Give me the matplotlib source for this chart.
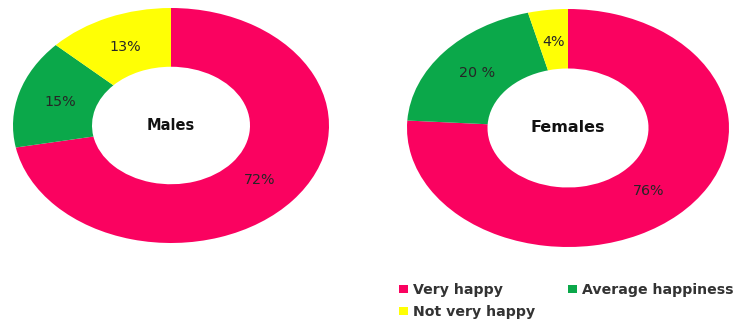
import matplotlib
matplotlib.use("Agg")
import matplotlib.pyplot as plt
import numpy as np
from matplotlib.patches import Patch

plt.rcParams['font.family'] = ['DejaVu Sans']

categories = ["Very happy", "Average happiness", "Not very happy"]
males = [72, 15, 13]
females = [76, 20, 4]
male_labels = ["72%", "15%", "13%"]
female_labels = ["76%", "20 %", "4%"]
colors = ["#FA0260", "#0BA84A", "#FFFF05"]

fig = plt.figure(figsize=(7.48, 3.22), dpi=100)

def donut(rect, vals, labs, title, tsize):
    ax = fig.add_axes(rect)
    wedges, _ = ax.pie(vals, colors=colors, startangle=90, counterclock=False,
                       radius=1.0, wedgeprops=dict(width=0.5, linewidth=0))
    ax.set_aspect('auto')
    ax.set_xlim(-1, 1)
    ax.set_ylim(-1, 1)
    ax.axis('off')
    for w, lab in zip(wedges, labs):
        ang = np.deg2rad((w.theta1 + w.theta2) / 2)
        ax.text(0.73 * np.cos(ang), 0.73 * np.sin(ang), lab, ha='center', va='center',
                fontsize=10.3, color='#262626')
    ax.text(0, 0.0, title, ha='center', va='center', fontsize=tsize,
            fontweight='bold', color='#111111')
    return ax

donut([13/748, 1 - 243/322, 316/748, 235/322], males, male_labels, "Males", 10.5)
donut([407/748, 1 - 247/322, 322/748, 238/322], females, female_labels, "Females", 11.5)

handles = [Patch(facecolor=colors[0], label=categories[0]),
           Patch(facecolor=colors[2], label=categories[2]),
           Patch(facecolor=colors[1], label=categories[1])]
fig.legend(handles=handles, ncol=2, loc='upper left',
           bbox_to_anchor=(399/748, 1 - 283/322), frameon=False,
           prop=dict(size=10.2, weight='bold'), labelcolor='#333333',
           handlelength=0.6, handleheight=0.5, handletextpad=0.4,
           columnspacing=2.3, labelspacing=0.55, borderpad=0, borderaxespad=0)

fig.savefig("out.png", dpi=100)
